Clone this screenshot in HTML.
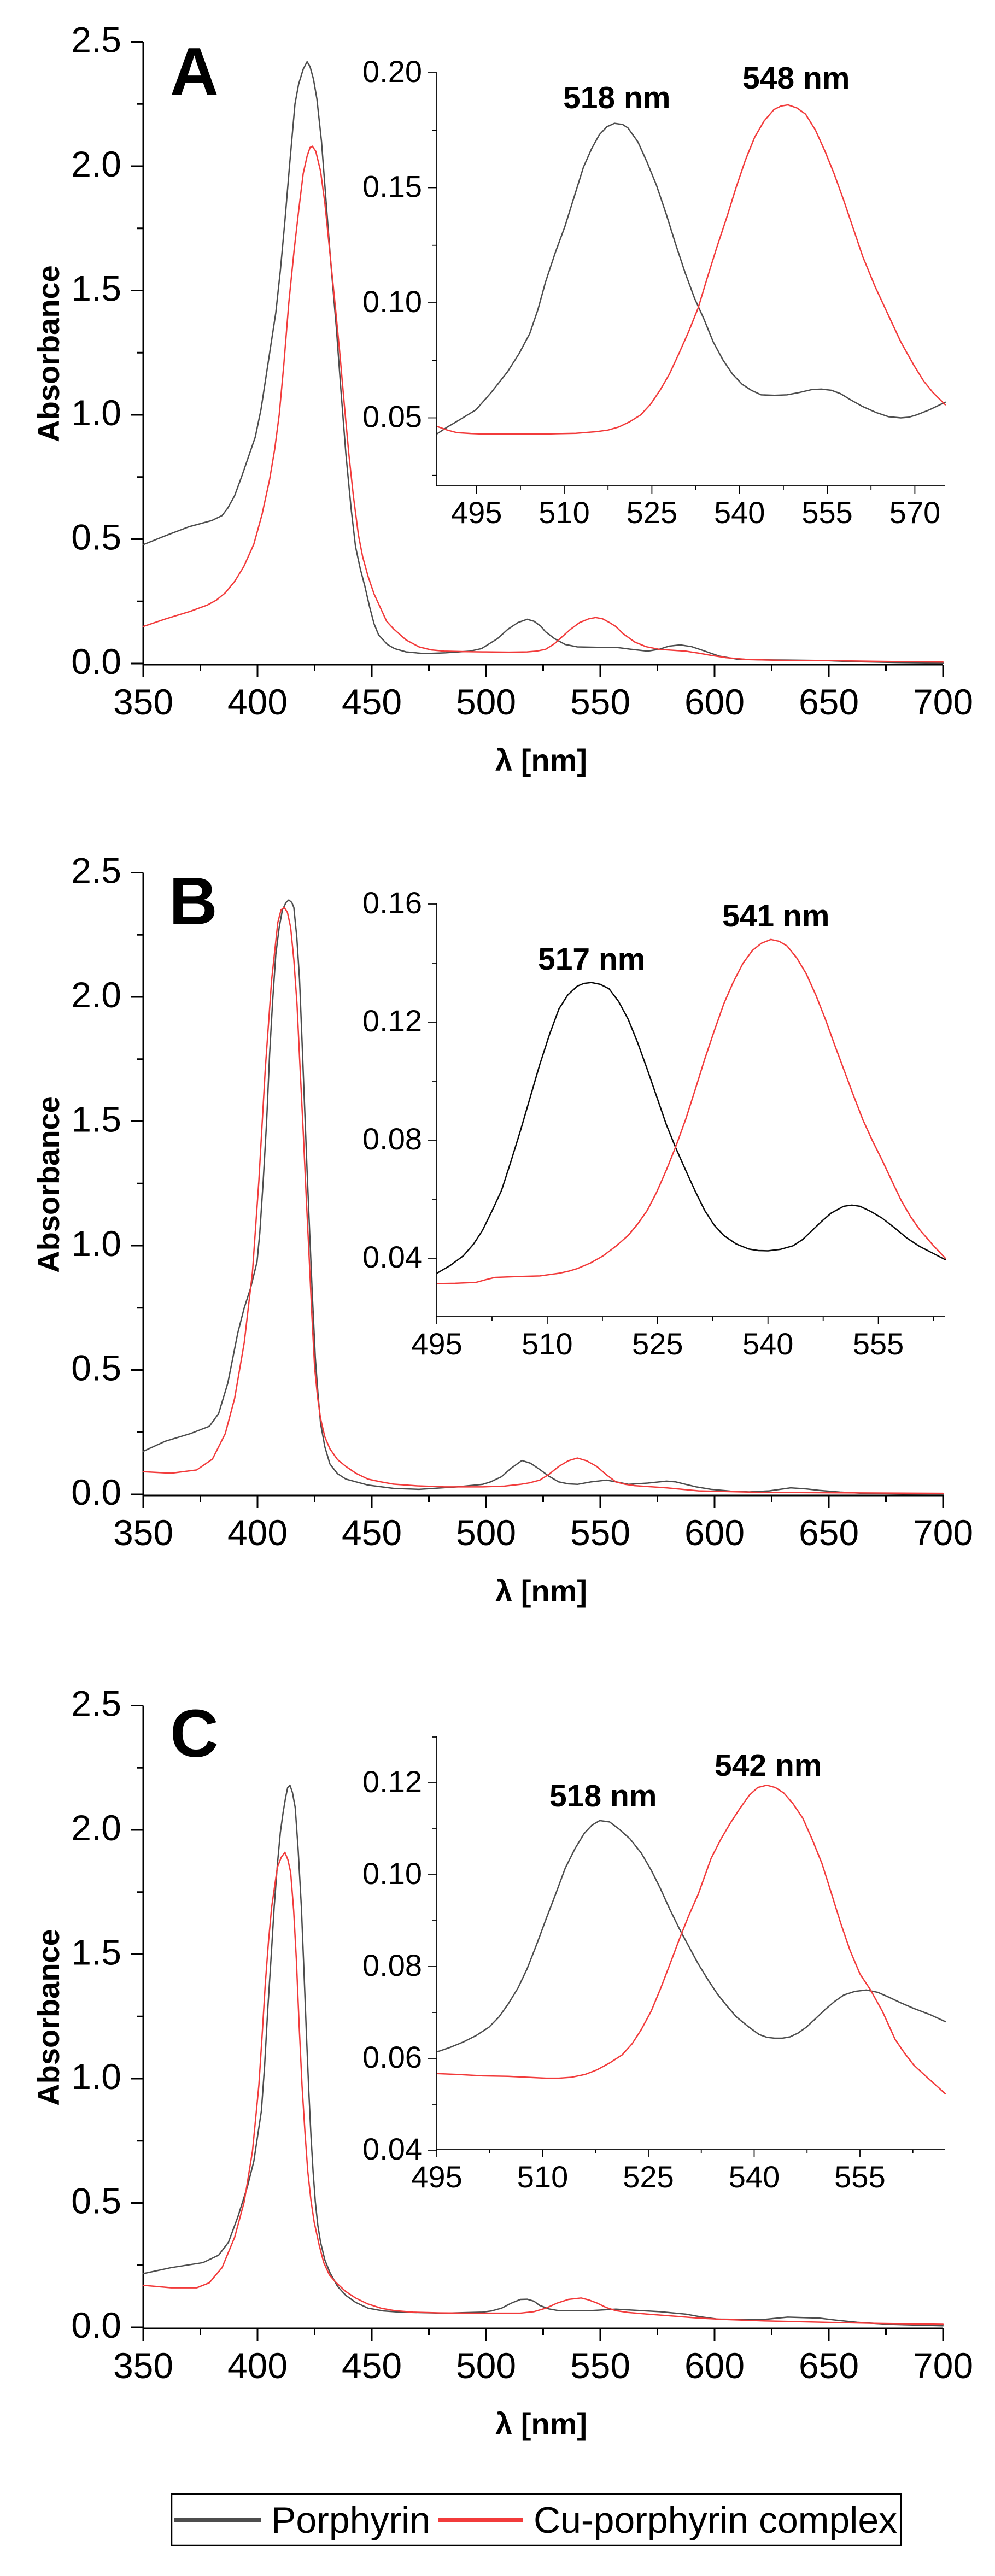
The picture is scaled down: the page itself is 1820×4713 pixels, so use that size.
<!DOCTYPE html>
<html><head><meta charset="utf-8"><style>
html,body{margin:0;padding:0;background:#fff;}
svg{display:block;}
text{font-family:"Liberation Sans",Arial,sans-serif;fill:#000;}
.tl{font-size:66px;}
.il{font-size:56px;}
.b{font-weight:bold;}
.ax{stroke:#000;stroke-width:3;fill:none;}
.iax{stroke:#000;stroke-width:1.8;fill:none;}
.g{fill:none;stroke:#4d4d4d;stroke-width:2.5;stroke-linejoin:round;stroke-linecap:round;}
.r{fill:none;stroke:#f23b3b;stroke-width:2.5;stroke-linejoin:round;stroke-linecap:round;}
.k{fill:none;stroke:#0a0a0a;stroke-width:2.5;stroke-linejoin:round;stroke-linecap:round;}
</style></head><body>
<svg width="1820" height="4713" viewBox="0 0 1820 4713" xmlns="http://www.w3.org/2000/svg">
<defs>
<clipPath id="ci" clipPathUnits="userSpaceOnUse"><rect x="799" y="133" width="931" height="757"/></clipPath>
<g id="mainax">
<path class="ax" d="M262 76.5V1217.5M260.5 1216H1725"/>
<path class="ax" d="M240 1214H262M240 986.5H262M240 759H262M240 531.5H262M240 304H262M240 76.5H262M251 1100.25H262M251 872.75H262M251 645.25H262M251 417.75H262M251 190.25H262"/>
<path class="ax" d="M262 1216V1239M471 1216V1239M680 1216V1239M889 1216V1239M1098 1216V1239M1307 1216V1239M1516 1216V1239M1725 1216V1239M366.5 1216V1228M575.5 1216V1228M784.5 1216V1228M993.5 1216V1228M1202.5 1216V1228M1411.5 1216V1228M1620.5 1216V1228"/>
<g class="tl" text-anchor="end">
<text x="222" y="1233">0.0</text><text x="222" y="1005.5">0.5</text><text x="222" y="778">1.0</text><text x="222" y="550.5">1.5</text><text x="222" y="323">2.0</text><text x="222" y="95.5">2.5</text>
</g>
<g class="tl" text-anchor="middle">
<text x="262" y="1307">350</text><text x="471" y="1307">400</text><text x="680" y="1307">450</text><text x="889" y="1307">500</text><text x="1098" y="1307">550</text><text x="1307" y="1307">600</text><text x="1516" y="1307">650</text><text x="1725" y="1307">700</text>
</g>
<text class="b" x="990" y="1410" font-size="56" text-anchor="middle">λ [nm]</text>
<text class="b" font-size="56" text-anchor="middle" transform="translate(108,647) rotate(-90)">Absorbance</text>
<path class="iax" d="M799 133V890M798 889H1729"/>
</g>
</defs>

<!-- PANEL A -->
<g>
<use href="#mainax"/>
<text class="b" x="311" y="173" font-size="123">A</text>
<path class="iax" d="M783 133H799M783 343.5H799M783 554H799M783 764.5H799M791 238.25H799M791 448.75H799M791 659.25H799M791 869.75H799"/>
<path class="iax" d="M871.7 889V903M1032 889V903M1192.4 889V903M1352.7 889V903M1513.1 889V903M1673.4 889V903M951.9 889V896M1112.2 889V896M1272.5 889V896M1432.9 889V896M1593.2 889V896"/>
<g class="il" text-anchor="end"><text x="772" y="150">0.20</text><text x="772" y="360.5">0.15</text><text x="772" y="571">0.10</text><text x="772" y="781.5">0.05</text></g>
<g class="il" text-anchor="middle"><text x="871.7" y="957">495</text><text x="1032" y="957">510</text><text x="1192.4" y="957">525</text><text x="1352.7" y="957">540</text><text x="1513.1" y="957">555</text><text x="1673.4" y="957">570</text></g>
<text class="b" x="1030" y="198" font-size="57">518 nm</text>
<text class="b" x="1358" y="162" font-size="57">548 nm</text>
<g transform="matrix(4.18 0 0 -455 -1201 1214)">
<polyline class="g" vector-effect="non-scaling-stroke" points="350,0.478 360,0.515 370,0.55 380,0.575 384.5,0.595 387,0.625 390,0.675 393,0.75 396,0.83 399,0.91 401.5,1.02 404,1.17 406,1.29 408,1.41 410,1.58 412,1.78 414,2.0 416.4,2.25 418,2.33 420,2.39 421.7,2.42 423,2.40 424.5,2.35 426,2.27 428,2.10 430,1.86 432,1.62 434.5,1.35 436.5,1.10 438.7,0.84 441,0.62 442.9,0.47 445,0.38 447,0.31 449,0.23 451,0.16 453,0.115 456.8,0.077 460,0.06 465,0.047 473,0.04 482,0.043 493,0.05 498,0.06 501,0.077 505,0.1 509.6,0.138 514,0.165 518,0.178 521,0.17 524,0.15 526,0.128 530,0.1 534.6,0.077 540,0.067 550,0.065 557,0.065 563,0.058 570.7,0.05 576,0.058 580,0.07 585,0.075 590,0.068 595.8,0.05 602,0.03 609.7,0.018 620,0.015 632,0.014 648.6,0.012 660,0.008 680,0.004 700,0.002"/>
<polyline class="r" vector-effect="non-scaling-stroke" points="350,0.149 360,0.18 370.6,0.21 378,0.235 382,0.255 386,0.285 390,0.33 394,0.39 398.4,0.48 402,0.6 405.3,0.74 407.5,0.86 409.5,1.0 411.5,1.2 413.7,1.45 416,1.66 418,1.82 420,1.97 421.7,2.04 423,2.075 424,2.08 425.5,2.06 427.6,1.98 429.5,1.85 431.7,1.65 434,1.44 436,1.25 438,1.04 440,0.84 442,0.67 444.2,0.515 446,0.43 448.4,0.35 451,0.28 454,0.22 456.5,0.17 459.5,0.14 465,0.095 470.7,0.067 476,0.055 481.8,0.05 490,0.048 498.5,0.047 510,0.046 518,0.047 522,0.05 526,0.057 530,0.08 533,0.105 537,0.138 541,0.165 545,0.18 548,0.185 551,0.18 554,0.165 556.8,0.149 560,0.12 565,0.087 570,0.068 576,0.057 587.4,0.05 593,0.042 598.5,0.033 605,0.024 615,0.016 630,0.013 648,0.012 670,0.009 700,0.006"/>
</g>
<g clip-path="url(#ci)"><g transform="matrix(10.69 0 0 -4210 -4419.9 975)">
<polyline class="g" vector-effect="non-scaling-stroke" points="488.2,0.043 490,0.046 492,0.049 494.9,0.0535 497.5,0.061 500.3,0.07 502.3,0.078 504.1,0.0866 505.5,0.097 506.8,0.109 508.5,0.122 510.1,0.133 511.7,0.146 513.3,0.159 514.7,0.167 516,0.173 517.3,0.1765 518.6,0.178 520,0.1775 520.9,0.176 522.6,0.17 524.2,0.161 525.8,0.151 527.4,0.139 529,0.126 530.7,0.113 532.3,0.102 533.9,0.093 535.5,0.083 537.2,0.075 538.8,0.069 540.5,0.0645 542,0.062 543.7,0.060 546,0.0598 548.1,0.060 550.2,0.061 552.4,0.0623 554,0.0625 555.7,0.062 557.3,0.0605 558.9,0.058 561,0.055 563.3,0.0524 565.5,0.0505 567.6,0.050 569,0.0503 570.3,0.0513 572.5,0.0535 575.2,0.0568"/>
<polyline class="r" vector-effect="non-scaling-stroke" points="488.2,0.0463 490,0.0447 491.6,0.0436 494,0.0432 496,0.043 500,0.043 506.8,0.043 512,0.0433 515.5,0.044 517.5,0.0447 519.3,0.046 521.2,0.0483 523.1,0.0513 524.8,0.056 526.4,0.062 528,0.069 529.6,0.0778 531.3,0.0875 532.9,0.0976 534.5,0.111 536.1,0.124 537.8,0.137 539.4,0.150 541,0.162 542.6,0.172 544.2,0.179 545.9,0.184 547.1,0.1855 548.3,0.186 549.8,0.1847 551.3,0.182 553,0.175 554.6,0.166 556.2,0.156 557.9,0.144 559.5,0.132 561.1,0.12 563.2,0.107 565.4,0.095 567.6,0.083 569.8,0.073 571.5,0.066 573.1,0.061 575.2,0.0557"/>
</g></g>
</g>

<!-- PANEL B -->
<g transform="translate(0,1520)">
<use href="#mainax"/>
<text class="b" x="309" y="171" font-size="123">B</text>
<path class="iax" d="M783 134H799M783 350H799M783 566H799M783 782H799M791 242H799M791 458H799M791 674H799"/>
<path class="iax" d="M799 889V903M1000.9 889V903M1202.8 889V903M1404.7 889V903M1606.6 889V903M900 889V896M1101.9 889V896M1303.8 889V896M1505.7 889V896M1707.6 889V896"/>
<g class="il" text-anchor="end"><text x="772" y="151">0.16</text><text x="772" y="367">0.12</text><text x="772" y="583">0.08</text><text x="772" y="799">0.04</text></g>
<g class="il" text-anchor="middle"><text x="799" y="958">495</text><text x="1000.9" y="958">510</text><text x="1202.8" y="958">525</text><text x="1404.7" y="958">540</text><text x="1606.6" y="958">555</text></g>
<text class="b" x="984" y="254" font-size="57">517 nm</text>
<text class="b" x="1321" y="175" font-size="57">541 nm</text>
<g transform="matrix(4.18 0 0 -455 -1201 1214)">
<polyline class="g" vector-effect="non-scaling-stroke" points="350,0.173 359.5,0.213 370.6,0.244 379,0.274 383,0.325 387,0.447 391.4,0.65 394.2,0.75 397,0.83 399.8,0.935 401,1.05 402.5,1.26 404,1.5 405.3,1.77 406.6,1.98 408,2.17 409.5,2.28 410.9,2.35 412.5,2.38 413.7,2.39 415,2.38 415.9,2.36 417.2,2.24 418.4,2.07 419.5,1.82 420.6,1.56 421.7,1.30 422.8,1.06 424,0.80 425.3,0.55 426.5,0.40 427.6,0.285 429.5,0.19 431.7,0.122 435,0.083 438.7,0.061 448.4,0.037 459.5,0.024 470.7,0.02 487.3,0.03 498.5,0.04 502,0.05 506.8,0.071 511,0.105 515.7,0.136 519.5,0.125 523.5,0.10 527.5,0.073 531.8,0.05 536,0.042 540,0.04 546,0.05 552.7,0.057 557,0.05 562.4,0.04 570.7,0.045 579,0.053 583,0.05 587.4,0.04 592,0.03 598.5,0.02 607,0.013 615.2,0.01 624,0.014 633.3,0.026 640,0.022 645.8,0.016 655,0.009 665.3,0.004 680,0.002 700,0"/>
<polyline class="r" vector-effect="non-scaling-stroke" points="350,0.091 362.2,0.085 373.4,0.098 380.3,0.142 385.9,0.244 390,0.386 394.2,0.61 397.8,0.894 400.6,1.26 403.4,1.71 406.2,2.07 408.9,2.30 410.3,2.35 411.7,2.36 413.1,2.34 414.5,2.28 415.9,2.15 417.3,1.97 418.6,1.72 420,1.46 421.3,1.2 422.6,0.955 423.8,0.72 425,0.51 426.3,0.39 427.6,0.305 429.5,0.23 431.7,0.183 435,0.14 438.7,0.112 443,0.085 448.4,0.061 454,0.05 459.5,0.041 470,0.034 481.8,0.03 498.5,0.03 508,0.033 515,0.04 519,0.046 523.5,0.057 527.5,0.08 531.8,0.112 536,0.135 540,0.146 544,0.135 548.5,0.112 552.5,0.08 556.8,0.05 561,0.04 565,0.035 579,0.026 593,0.014 620.8,0.008 660,0.006 700,0.004"/>
</g>
<g clip-path="url(#ci)"><g transform="matrix(13.46 0 0 -5400 -5863.7 998)">
<polyline class="k" vector-effect="non-scaling-stroke" points="495,0.0349 496.8,0.0375 498.6,0.0408 500,0.0448 501.2,0.0494 502.5,0.056 503.8,0.063 505.1,0.073 506.4,0.0835 507.7,0.0946 509,0.1057 510.3,0.1157 511.6,0.1245 512.8,0.1292 514.1,0.1322 515,0.1331 516,0.1334 517.2,0.1328 518.4,0.1313 519.7,0.127 521,0.121 522.3,0.113 523.6,0.104 524.9,0.0946 526.2,0.0852 527.5,0.0772 528.8,0.0699 530.1,0.0628 531.4,0.0562 532.7,0.0512 534,0.0477 535.7,0.0448 537.4,0.0431 538.7,0.0426 540,0.0425 541.7,0.043 543.4,0.0442 544.7,0.0463 546,0.0494 547.3,0.0525 548.6,0.0553 550.3,0.0576 551.4,0.058 552.5,0.0576 554,0.0558 555.5,0.0536 557.2,0.0503 558.9,0.0468 560.6,0.044 562.4,0.0417 564.1,0.0395"/>
<polyline class="r" vector-effect="non-scaling-stroke" points="495,0.0314 497.5,0.0315 500.3,0.0318 501.6,0.0327 502.9,0.0335 506,0.0338 509,0.034 511.6,0.0349 512.9,0.0356 514.1,0.0365 515.9,0.0384 517.6,0.0408 519.3,0.044 521,0.0477 522.3,0.0516 523.6,0.0562 524.9,0.0625 526.2,0.0699 527.5,0.078 528.8,0.0869 530.1,0.097 531.4,0.1074 532.7,0.117 534,0.1262 535.3,0.1336 536.6,0.1399 537.9,0.1443 539.1,0.1467 540.4,0.148 541.5,0.1474 542.6,0.1458 543.9,0.1418 545.2,0.1364 546.5,0.1292 547.8,0.121 549,0.1127 550.3,0.104 551.6,0.0953 552.9,0.0869 554.2,0.0798 555.5,0.0733 556.8,0.0664 558.1,0.0596 559.4,0.054 560.7,0.0494 562.4,0.0445 564.1,0.04"/>
</g></g>
</g>

<!-- PANEL C -->
<g transform="translate(0,3044)">
<use href="#mainax"/>
<text class="b" x="311" y="170" font-size="123">C</text>
<path class="iax" d="M783 218H799M783 386H799M783 554H799M783 722H799M783 890H799M791 134H799M791 302H799M791 470H799M791 638H799M791 806H799"/>
<path class="iax" d="M799 889V903M992.5 889V903M1186 889V903M1379.5 889V903M1573 889V903M895.75 889V896M1089.25 889V896M1282.75 889V896M1476.25 889V896M1669.75 889V896"/>
<g class="il" text-anchor="end"><text x="772" y="235">0.12</text><text x="772" y="403">0.10</text><text x="772" y="571">0.08</text><text x="772" y="739">0.06</text><text x="772" y="907">0.04</text></g>
<g class="il" text-anchor="middle"><text x="799" y="958">495</text><text x="992.5" y="958">510</text><text x="1186" y="958">525</text><text x="1379.5" y="958">540</text><text x="1573" y="958">555</text></g>
<text class="b" x="1005" y="261" font-size="57">518 nm</text>
<text class="b" x="1307" y="205" font-size="57">542 nm</text>
<g transform="matrix(4.18 0 0 -455 -1201 1214)">
<polyline class="g" vector-effect="non-scaling-stroke" points="350,0.216 362.2,0.24 376.1,0.26 383,0.29 387.3,0.342 391.4,0.444 395.6,0.566 398.4,0.668 401.7,0.87 403.1,1.05 404.5,1.28 405.9,1.48 407.3,1.69 408.7,1.86 410,1.99 411.2,2.07 412.3,2.13 413.2,2.17 414.2,2.18 415.3,2.15 416.5,2.09 417.8,1.92 419.2,1.69 420.3,1.44 421.4,1.18 422.4,0.96 423.4,0.77 424.3,0.63 425.3,0.505 426.4,0.41 427.6,0.342 429.5,0.27 431.7,0.22 435,0.165 438.7,0.128 443,0.1 448.4,0.077 455,0.066 462.3,0.061 481.8,0.057 498.5,0.061 502.5,0.066 506.8,0.077 511,0.097 515,0.112 518,0.113 521,0.105 523.5,0.088 527.5,0.074 531.8,0.067 545.7,0.067 556.8,0.073 566,0.068 576,0.063 587.4,0.053 594,0.042 601.3,0.033 620.8,0.031 632,0.041 645.8,0.037 654,0.028 662.5,0.02 676.4,0.012 700,0.006"/>
<polyline class="r" vector-effect="non-scaling-stroke" points="350,0.169 362.2,0.159 373.4,0.159 378.9,0.179 384.5,0.24 390,0.362 394.2,0.505 397.8,0.708 400.6,0.973 402,1.17 403.4,1.38 404.8,1.55 406.2,1.69 408.7,1.85 410.4,1.89 412,1.91 413.3,1.88 414.5,1.83 415.8,1.68 417,1.48 418.2,1.22 419.5,0.97 420.8,0.78 422,0.627 423.4,0.51 424.8,0.423 427,0.33 429,0.26 431.5,0.21 434.5,0.179 438.5,0.145 442.9,0.118 448,0.095 454,0.077 460,0.067 467.9,0.061 480,0.058 495.7,0.057 515,0.057 521,0.063 526.2,0.077 531,0.097 536,0.112 541.6,0.118 545,0.11 548.5,0.098 552.5,0.08 556.8,0.067 562,0.06 570.7,0.053 582,0.045 593,0.037 606,0.031 620.8,0.026 635,0.023 648.6,0.02 670,0.016 700,0.012"/>
</g>
<g clip-path="url(#ci)"><g transform="matrix(12.9 0 0 -8400 -5586.5 1226)">
<polyline class="g" vector-effect="non-scaling-stroke" points="495,0.0614 496.9,0.0624 498.8,0.0636 500.6,0.065 502.4,0.0668 503.8,0.069 505.1,0.0718 506.5,0.0753 507.8,0.0795 509.2,0.085 510.5,0.0904 511.9,0.096 513.2,0.1014 514.6,0.1057 515.9,0.109 517,0.1108 518.1,0.1118 519.5,0.1115 520.8,0.110 522.4,0.1078 524,0.1047 525.4,0.101 526.7,0.097 528,0.0926 529.4,0.0882 530.8,0.0842 532.1,0.0805 533.5,0.077 534.8,0.074 536.2,0.0713 537.5,0.069 539.1,0.067 540.7,0.0652 541.8,0.0646 542.9,0.0644 544,0.0644 545.1,0.0647 546.2,0.0655 547.4,0.0668 548.8,0.0688 550.1,0.0707 551.4,0.0724 552.7,0.0738 554.3,0.0746 555.9,0.0749 557.5,0.0744 559,0.0734 560.8,0.0721 562.6,0.0709 565,0.0695 567.1,0.068"/>
<polyline class="r" vector-effect="non-scaling-stroke" points="495,0.0567 498,0.0565 501.5,0.0562 505.1,0.0561 510.5,0.0557 512.3,0.0557 514.1,0.0559 516,0.0565 517.7,0.0575 519.5,0.059 521.3,0.0608 522.7,0.0632 524,0.0663 525.4,0.0703 526.7,0.0751 528,0.0803 529.4,0.086 530.7,0.091 532.1,0.0959 533.9,0.1036 535.3,0.1078 536.6,0.1112 538,0.1145 539.3,0.1173 540.5,0.119 541.8,0.1195 543,0.119 544.2,0.1178 545.5,0.1155 546.9,0.1123 548.2,0.1078 549.6,0.1025 550.9,0.0962 552.3,0.0893 553.6,0.0835 555,0.0784 556.5,0.0749 558.2,0.0702 560,0.0641 561.3,0.0612 562.6,0.0586 564,0.0566 565.3,0.0548 567.1,0.0523"/>
</g></g>
</g>

<!-- LEGEND -->
<rect x="314" y="4563" width="1334" height="94" fill="#fff" stroke="#000" stroke-width="2.5"/>
<line x1="318" y1="4611" x2="477" y2="4611" stroke="#4d4d4d" stroke-width="8"/>
<text x="496" y="4634" font-size="68">Porphyrin</text>
<line x1="802" y1="4611" x2="957" y2="4611" stroke="#f23b3b" stroke-width="8"/>
<text x="976" y="4634" font-size="68">Cu-porphyrin complex</text>
</svg>
</body></html>
